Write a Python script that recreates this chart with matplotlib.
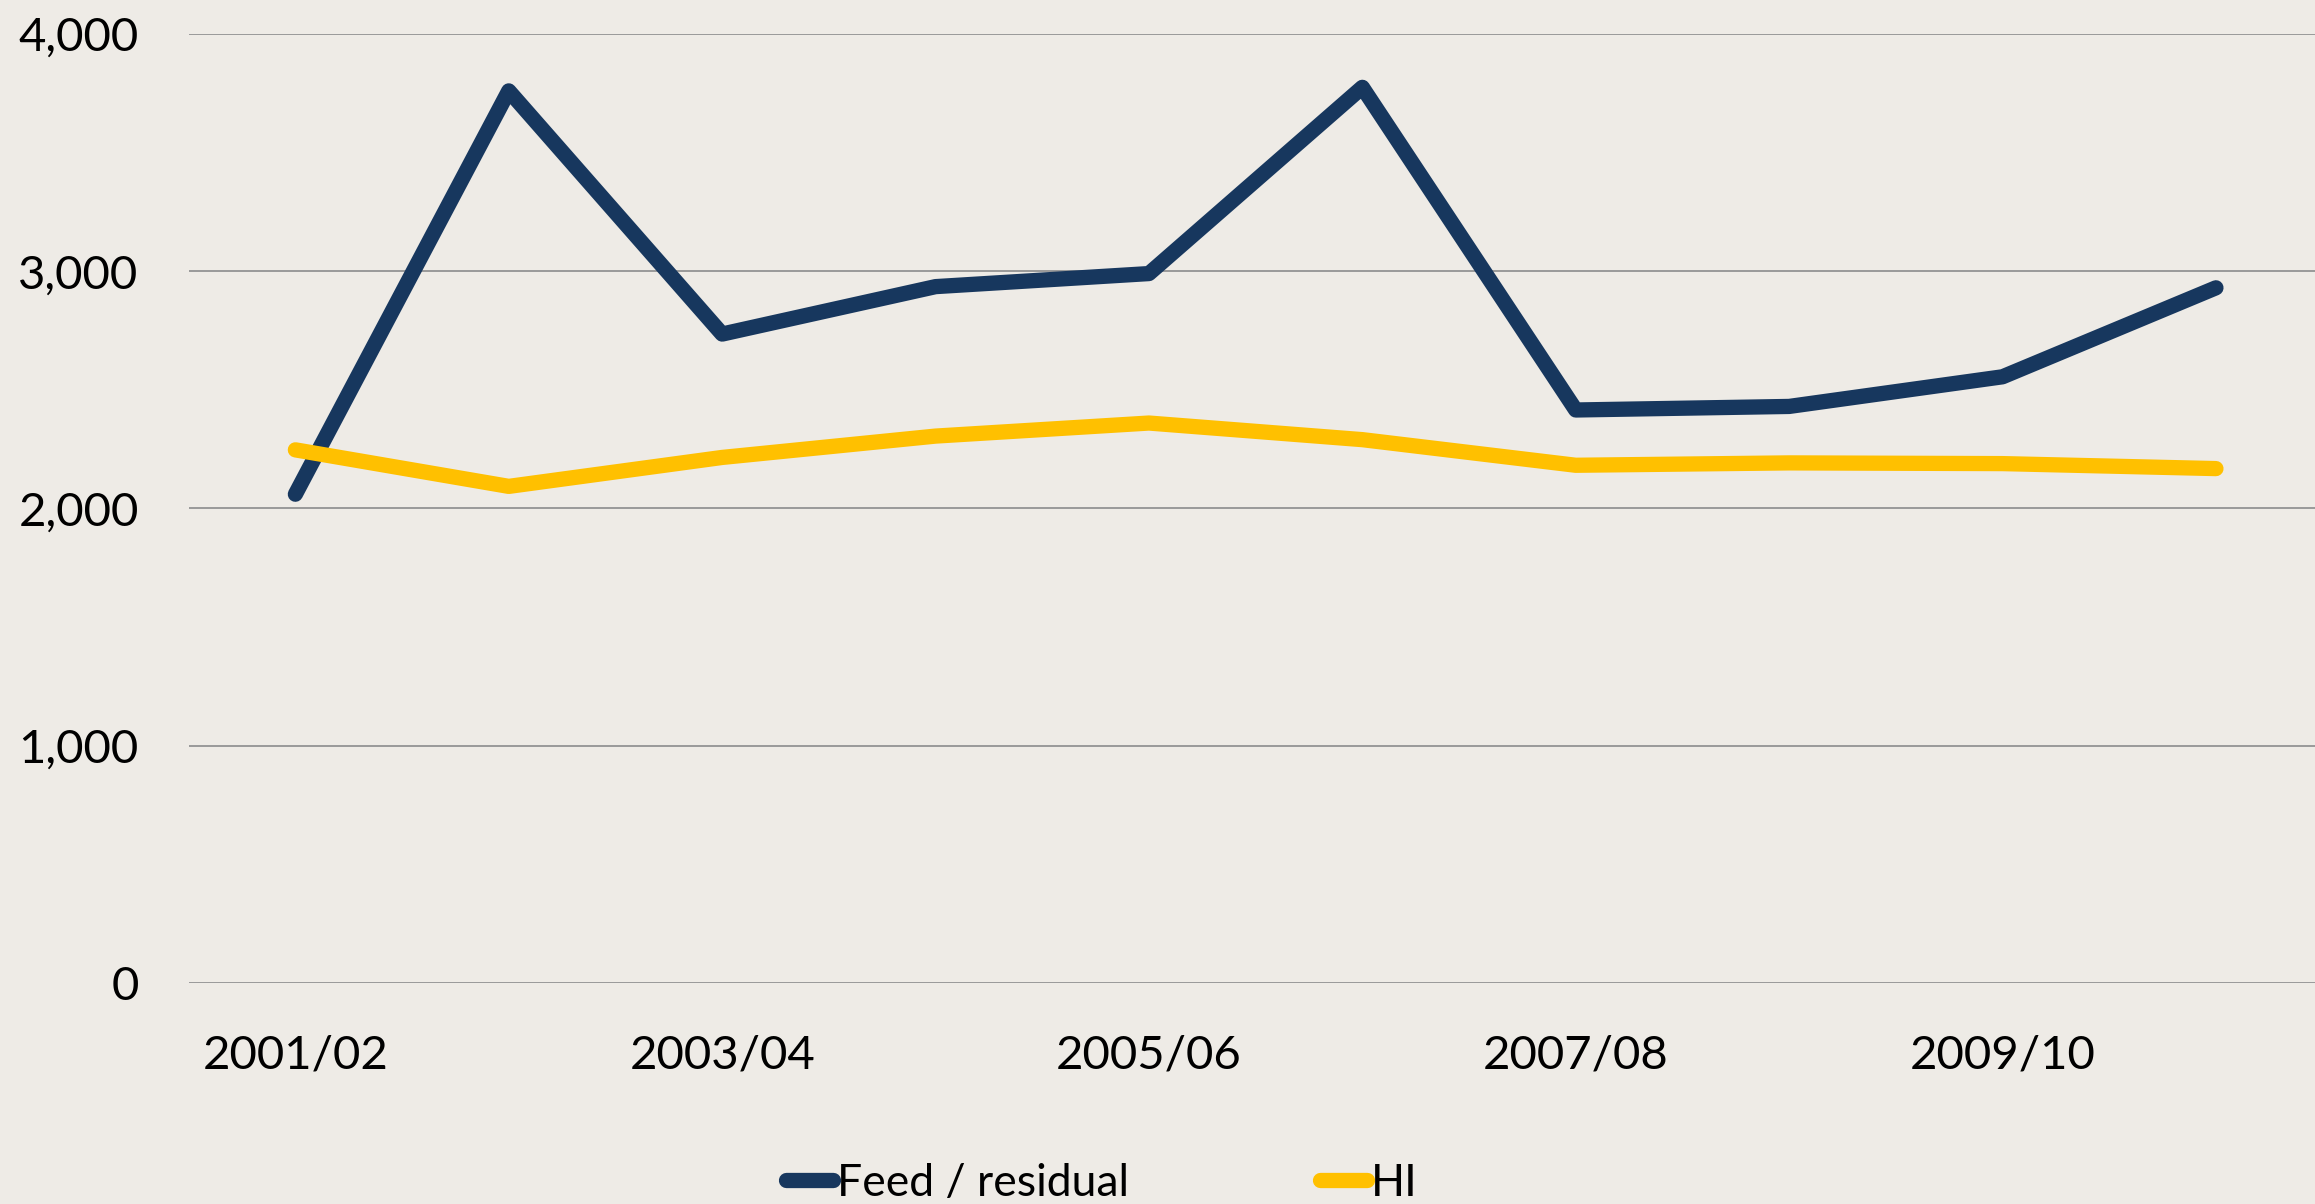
import matplotlib
matplotlib.use("Agg")
import matplotlib.pyplot as plt
from matplotlib.ticker import FuncFormatter

plt.rcParams['font.family'] = ['Lato', 'DejaVu Sans']

categories = ["2001/02", "2002/03", "2003/04", "2004/05", "2005/06",
              "2006/07", "2007/08", "2008/09", "2009/10", "2010/11"]
feed_residual = [2060, 3760, 2735, 2935, 2990, 3775, 2415, 2430, 2555, 2930]
hi = [2247, 2093, 2215, 2305, 2360, 2290, 2182, 2192, 2189, 2168]
y_ticks = [0, 1000, 2000, 3000, 4000]

bg = "#EEEBE6"
navy = "#17375E"
gold = "#FFC000"

fig = plt.figure(figsize=(23.15, 12.04), dpi=100, facecolor=bg)
ax = fig.add_axes([0.0815, 0.1836, 0.9218, 0.7882], facecolor=bg)

x = list(range(len(categories)))
lw = 11
ax.plot(x, feed_residual, color=navy, lw=lw, solid_capstyle='round',
        solid_joinstyle='round', label="Feed / residual", zorder=3)
ax.plot(x, hi, color=gold, lw=lw, solid_capstyle='round',
        solid_joinstyle='round', label="HI", zorder=3)

ax.set_xlim(-0.5, len(categories) - 0.5)
ax.set_ylim(0, 4000)
ax.set_yticks(y_ticks)
ax.yaxis.set_major_formatter(FuncFormatter(lambda v, p: f"{int(v):,}"))
ax.set_xticks(x[::2])
ax.set_xticklabels(categories[::2])
ax.grid(axis='y', color='#999999', lw=1.4, zorder=1)
ax.tick_params(axis='both', length=0, labelsize=34, colors='black')
ax.tick_params(axis='y', pad=36)
ax.tick_params(axis='x', pad=37)
for s in ax.spines.values():
    s.set_visible(False)

leg = fig.legend(loc='center', bbox_to_anchor=(0.476, 0.017), ncol=2,
                 frameon=False, fontsize=32, handlelength=1.05,
                 handletextpad=0.1, columnspacing=4.3)

fig.savefig("out.png", dpi=100, facecolor=bg)
